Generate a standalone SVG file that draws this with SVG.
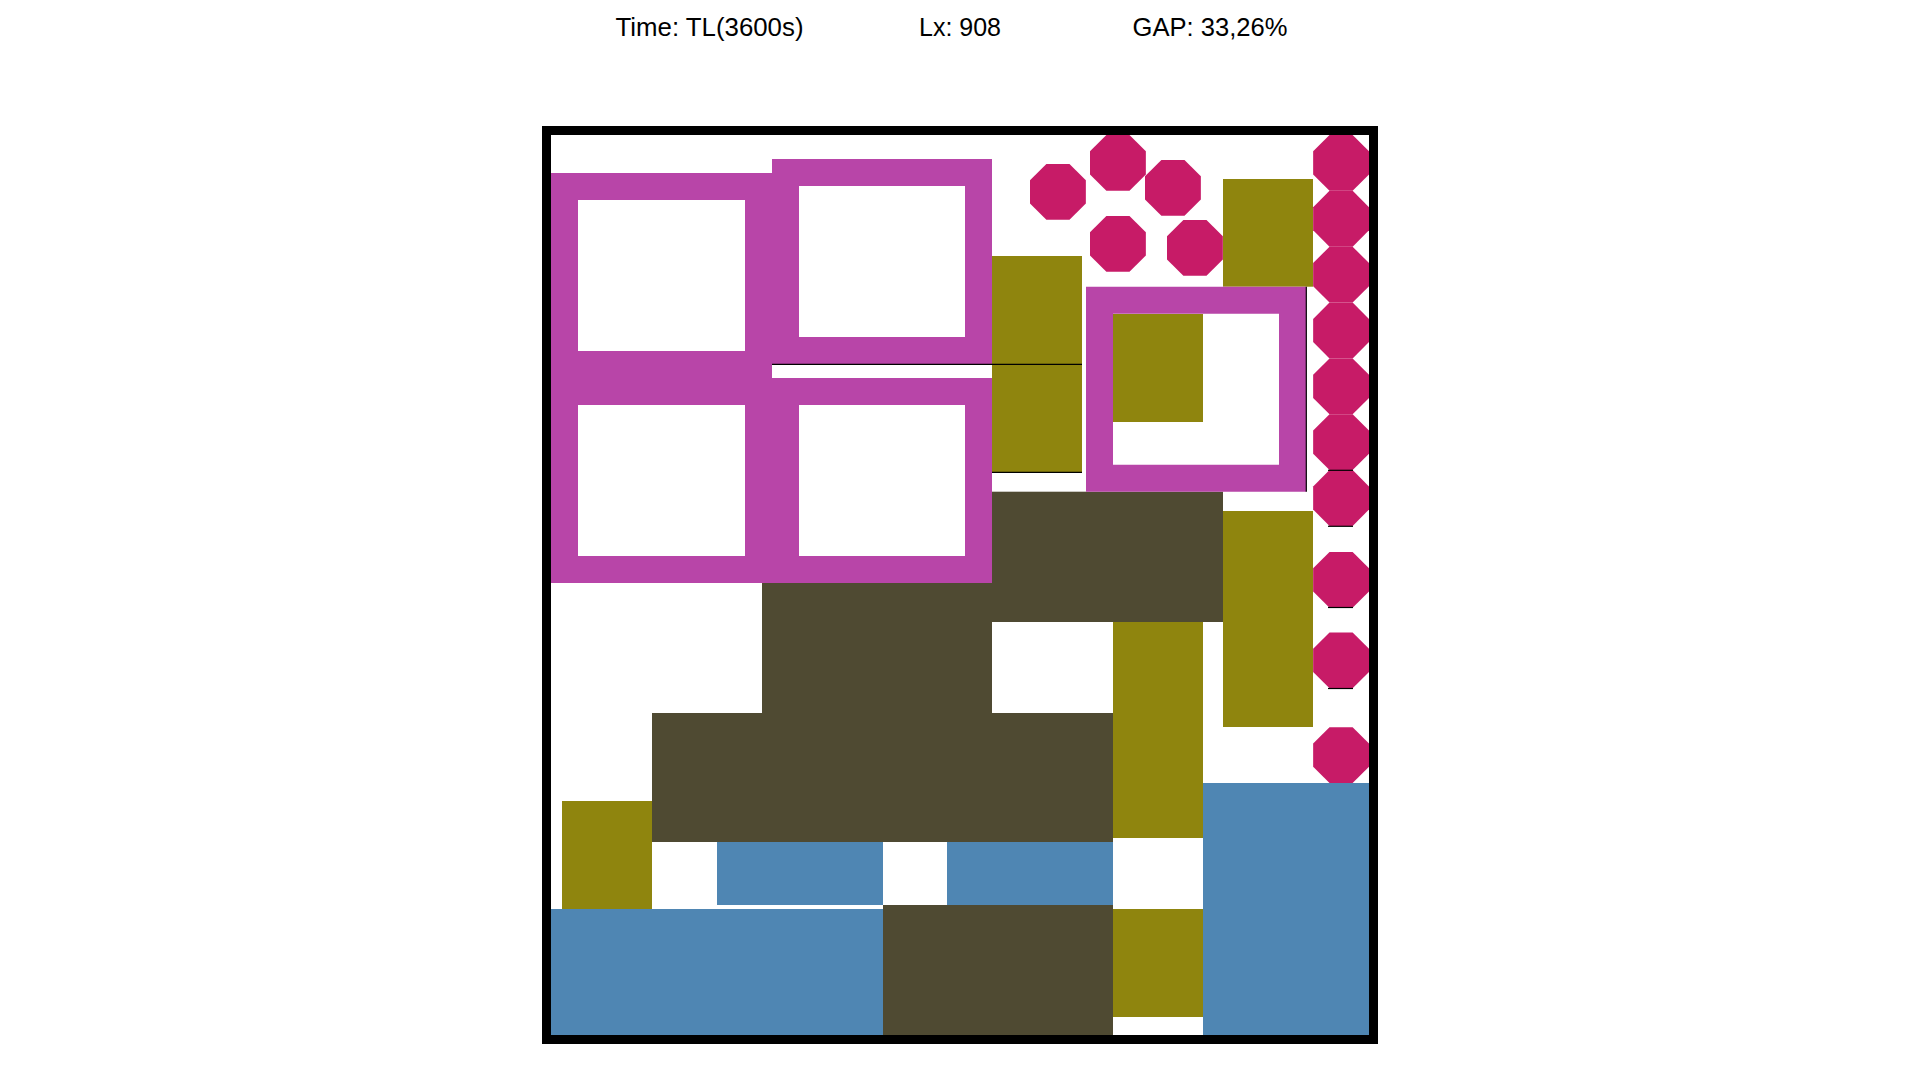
<svg xmlns="http://www.w3.org/2000/svg" xmlns:xlink="http://www.w3.org/1999/xlink" width="1920" height="1080" viewBox="0 0 1920 1080">
<style>
.hdr{font-family:"Liberation Sans",Arial,sans-serif;font-size:26px;fill:#000}
.mag{fill:#B845A8;fill-rule:evenodd}
.oli{fill:#8F850E}
.drk{fill:#4F4A32}
.blu{fill:#4F86B3}
.oct{fill:#C71B67}
.ln{stroke:#000;stroke-width:1.2;fill:none}
</style>
<defs>
<polygon id="octagon" points="16.36,0 39.49,0 55.85,16.36 55.85,39.49 39.49,55.85 16.36,55.85 0,39.49 0,16.36"/>
</defs>
<rect width="1920" height="1080" fill="#fff"/>
<g id="header">
<text class="hdr" x="615.5" y="35.5" textLength="188" lengthAdjust="spacingAndGlyphs">Time: TL(3600s)</text>
<text class="hdr" x="919" y="35.5" textLength="82" lengthAdjust="spacingAndGlyphs">Lx: 908</text>
<text class="hdr" x="1132.5" y="35.5" textLength="155" lengthAdjust="spacingAndGlyphs">GAP: 33,26%</text>
</g>
<g id="dark">
<rect class="drk" x="992" y="491.7" width="231" height="130.3"/>
<rect class="drk" x="762" y="583" width="230" height="130"/>
<rect class="drk" x="652" y="713" width="461" height="129"/>
<rect class="drk" x="883" y="905" width="230" height="130"/>
</g>
<g id="blue">
<rect class="blu" x="717" y="842" width="166" height="63"/>
<rect class="blu" x="947" y="842" width="166" height="63"/>
<rect class="blu" x="551" y="909" width="332" height="126"/>
<rect class="blu" x="1203" y="783" width="166" height="252"/>
</g>
<g id="olive">
<rect class="oli" x="992" y="256" width="90" height="108.3"/>
<rect class="oli" x="992" y="364.3" width="90" height="108"/>
<rect class="oli" x="1223" y="179" width="90" height="107.7"/>
<rect class="oli" x="1113" y="314" width="90" height="108"/>
<rect class="oli" x="1223" y="511" width="90" height="216"/>
<rect class="oli" x="1113" y="622" width="90" height="216"/>
<rect class="oli" x="1113" y="909" width="90" height="108"/>
<rect class="oli" x="562" y="801" width="90" height="108"/>
</g>
<g id="frames">
<path id="f1" class="mag" d="M551,173h221v205h-221z M578,200v151h167v-151z"/>
<path id="f2" class="mag" d="M551,378h221v205h-221z M578,405v151h167v-151z"/>
<path id="f3" class="mag" d="M772,159h220v205h-220z M799,186v151h166v-151z"/>
<path id="f4" class="mag" d="M772,378h220v205h-220z M799,405v151h166v-151z"/>
<path id="f5" class="mag" d="M1086,286.7h220.3v205h-220.3z M1113,313.7v151h166v-151z"/>
</g>
<g id="octagons">
<use xlink:href="#octagon" class="oct" x="1030" y="164"/>
<use xlink:href="#octagon" class="oct" x="1090" y="135"/>
<use xlink:href="#octagon" class="oct" x="1145" y="160"/>
<use xlink:href="#octagon" class="oct" x="1090" y="216"/>
<use xlink:href="#octagon" class="oct" x="1167" y="220"/>
<use xlink:href="#octagon" class="oct" x="1313.15" y="135"/>
<use xlink:href="#octagon" class="oct" x="1313.15" y="190.85"/>
<use xlink:href="#octagon" class="oct" x="1313.15" y="246.7"/>
<use xlink:href="#octagon" class="oct" x="1313.15" y="302.55"/>
<use xlink:href="#octagon" class="oct" x="1313.15" y="358.4"/>
<use xlink:href="#octagon" class="oct" x="1313.15" y="414.25"/>
<use xlink:href="#octagon" class="oct" x="1313.15" y="470.1"/>
<use xlink:href="#octagon" class="oct" x="1313.15" y="552"/>
<use xlink:href="#octagon" class="oct" x="1313.15" y="632.5"/>
<use xlink:href="#octagon" class="oct" x="1313.15" y="727.15"/>
</g>
<g id="edges">
<line class="ln" x1="772" y1="364.3" x2="1082" y2="364.3"/>
<line class="ln" x1="992" y1="472.3" x2="1082" y2="472.3"/>
<line class="ln" x1="1306.3" y1="286.7" x2="1306.3" y2="491.7"/>
<line class="ln" x1="1328" y1="470.3" x2="1353" y2="470.3"/>
<line class="ln" x1="1328" y1="526.3" x2="1353" y2="526.3"/>
<line class="ln" x1="1328" y1="607.5" x2="1353" y2="607.5"/>
<line class="ln" x1="1328" y1="688.5" x2="1353" y2="688.5"/>
</g>
<rect id="container" x="546.5" y="130.5" width="827" height="909" fill="none" stroke="#000" stroke-width="9"/>
</svg>
